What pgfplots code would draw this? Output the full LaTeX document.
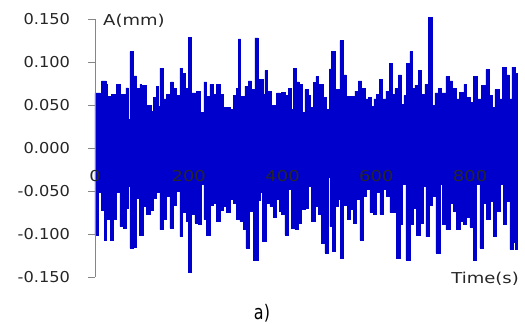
\documentclass[border=0pt]{standalone}
\usepackage{pgfplots}
\pgfplotsset{compat=1.18}
\usepackage{fontspec}
\setmainfont{DejaVu Sans}[FakeStretch=1.2]
\newfontfamily\ytfont{DejaVu Sans}[FakeStretch=1.08]
\newfontfamily\capfont{DejaVu Sans}[FakeStretch=0.8]
\definecolor{sig}{RGB}{0,0,205}
\definecolor{tcol}{HTML}{262626}
\definecolor{acol}{HTML}{868686}
\begin{document}
\begin{tikzpicture}
\path[use as bounding box] (0,0) rectangle (525pt,324pt);
\begin{axis}[
  at={(95pt,47pt)}, anchor=south west,
  scale only axis, width=422pt, height=258pt,
  xmin=0, xmax=900, ymin=-0.15, ymax=0.15,
  axis y line*=left,
  axis x line*=middle,
  hide obscured x ticks=false,
  x axis line style={draw=none},
  y axis line style={draw=acol, line width=0.8pt},
  ytick={-0.15,-0.1,-0.05,0,0.05,0.1,0.15},
  xtick={0,200,400,600,800},
  major x tick style={draw=none},
  major y tick style={draw=acol, line width=0.8pt},
  tick align=outside,
  major tick length=7pt,
  axis on top,
  /pgf/number format/assume math mode=true,
  scaled y ticks=false,
  xticklabel style={font=\fontsize{15}{18}\selectfont, text=tcol, yshift=-12pt},
  yticklabel style={/pgf/number format/fixed, /pgf/number format/fixed zerofill, /pgf/number format/precision=3, xshift=-14.5pt, font=\ytfont\fontsize{15}{18}\selectfont, text=tcol},
  clip=false,
]
\addplot[const plot, fill=sig, draw=sig, line width=0.5pt] coordinates {
(0,0.064)(10.7,0.061)(14.2,0.078)(23.5,0.074)(26.3,0.060)(35.5,0.062)(46.2,0.074)(53.3,0.053)(56.9,0.062)(66.1,0.070)(71.1,0.033)(74.6,0.112)(81.7,0.084)(88.8,0.069)(95.9,0.074)(99.5,0.073)(110.2,0.050)(120.8,0.043)(124.4,0.059)(130.1,0.072)(135,0.048)(138.6,0.093)(145.7,0.057)(152.8,0.062)(161.3,0.077)(167,0.069)(174.1,0.061)(181.2,0.093)(186.9,0.087)(191.9,0.069)(199,0.129)(206.1,0.064)(216.8,0.066)(223.9,0.041)(232.4,0.077)(238.1,0.060)(245.2,0.074)(252.3,0.062)(259.4,0.074)(266.5,0.062)(273.6,0.047)(287.8,0.045)(295,0.061)(302,0.069)(305.6,0.127)(310.6,0.060)(319.8,0.072)(326.9,0.078)(334,0.068)(341.2,0.128)(348.3,0.080)(358.9,0.062)(362.5,0.090)(367.4,0.066)(376.7,0.050)(383.8,0.038)(387.3,0.064)(394.4,0.061)(398,0.065)(405.1,0.061)(412.2,0.069)(419.3,0.045)(422.9,0.093)(430,0.077)(435.7,0.074)(442.8,0.041)(447.7,0.068)(454.9,0.061)(458.4,0.047)(465.5,0.076)(471.2,0.083)(476.2,0.074)(486.8,0.059)(494,0.045)(499.6,0.092)(504.6,0.112)(511.7,0.068)(522.4,0.125)(529.5,0.085)(535.2,0.060)(554.4,0.066)(561.5,0.078)(568.6,0.069)(575.7,0.057)(582.8,0.059)(589.9,0.048)(594.9,0.057)(600.6,0.062)(606.2,0.080)(613.4,0.057)(620.5,0.066)(627.6,0.098)(634.7,0.062)(639.6,0.069)(646.8,0.085)(653.9,0.051)(658.8,0.061)(664.5,0.098)(671.6,0.112)(677.3,0.069)(682.3,0.073)(689.4,0.090)(696.5,0.062)(703.6,0.074)(710.7,0.152)(720,0.050)(725,0.064)(732,0.069)(739.2,0.064)(748.4,0.083)(755.5,0.078)(762.6,0.069)(771.1,0.057)(776.8,0.065)(786.8,0.074)(792.5,0.059)(799.6,0.053)(806.7,0.083)(815.2,0.057)(824.4,0.073)(833.7,0.091)(840.8,0.061)(847.9,0.047)(852.9,0.068)(862.1,0.057)(869.2,0.094)(876.3,0.085)(883.4,0.057)(889.1,0.094)(895.5,0.087)(900,0.087)
} \closedcycle;
\addplot[const plot, fill=sig, draw=sig, line width=0.5pt] coordinates {
(0,-0.102)(7.1,-0.052)(14.2,-0.072)(19.2,-0.107)(24.9,-0.083)(32,-0.107)(39.1,-0.083)(46.2,-0.052)(53.3,-0.091)(60.4,-0.093)(66.1,-0.070)(71.1,-0.045)(74.6,-0.116)(81.7,-0.115)(88.8,-0.058)(94.5,-0.102)(103.1,-0.068)(110.2,-0.077)(117.3,-0.072)(124.4,-0.058)(131.5,-0.052)(138.6,-0.095)(145.7,-0.083)(152.8,-0.056)(159.9,-0.093)(167,-0.066)(174.1,-0.050)(181.2,-0.103)(186.9,-0.075)(195.5,-0.085)(199,-0.145)(206.1,-0.077)(213.2,-0.087)(220.3,-0.089)(227.4,-0.042)(232.4,-0.083)(238.1,-0.101)(245.2,-0.066)(252.3,-0.064)(259.4,-0.085)(266.5,-0.072)(273.6,-0.068)(280.7,-0.075)(287.8,-0.060)(295,-0.064)(302,-0.083)(309.2,-0.085)(316.3,-0.095)(321.9,-0.116)(329.1,-0.073)(337.6,-0.130)(348.3,-0.061)(351.8,-0.052)(357.5,-0.109)(366,-0.064)(373.1,-0.068)(380.2,-0.081)(387.3,-0.060)(393,-0.073)(398,-0.077)(405.1,-0.101)(412.2,-0.048)(419.3,-0.093)(426.4,-0.095)(433.5,-0.087)(440.6,-0.071)(447.7,-0.070)(454.9,-0.044)(462,-0.085)(469.1,-0.068)(476.2,-0.077)(483.3,-0.111)(490.4,-0.122)(497.5,-0.034)(501.1,-0.091)(506.7,-0.120)(511.7,-0.068)(518.8,-0.060)(523.8,-0.128)(529.5,-0.066)(538,-0.083)(543.7,-0.071)(550.8,-0.087)(557.9,-0.060)(565,-0.107)(572.1,-0.056)(579.2,-0.048)(586.3,-0.075)(593.4,-0.077)(600.6,-0.052)(607.7,-0.077)(614.8,-0.048)(621.9,-0.056)(629,-0.075)(636.1,-0.075)(643.2,-0.128)(650.3,-0.089)(656,-0.042)(663.1,-0.130)(671.6,-0.089)(678.7,-0.070)(685.8,-0.101)(693,-0.087)(700,-0.044)(705.7,-0.103)(712.9,-0.066)(720,-0.056)(727.1,-0.122)(735.6,-0.042)(741.3,-0.089)(748.4,-0.095)(756.9,-0.064)(764,-0.073)(771.1,-0.095)(778.2,-0.085)(785.3,-0.089)(792.4,-0.080)(799.5,-0.092)(806.7,-0.130)(813.8,-0.042)(820.9,-0.116)(828,-0.064)(835.1,-0.083)(842.2,-0.062)(849.3,-0.103)(856.4,-0.073)(863.5,-0.042)(870.6,-0.089)(877.7,-0.062)(884.8,-0.118)(892,-0.110)(896,-0.118)(900,-0.118)
} \closedcycle;
\end{axis}
\node[anchor=base west, inner sep=0pt, text=tcol, font=\fontsize{15}{18}\selectfont] at (103pt,298pt) {A(mm)};
\node[anchor=base east, inner sep=0pt, text=tcol, font=\fontsize{15}{18}\selectfont] at (519pt,40pt) {Time(s)};
\node[anchor=base, inner sep=0pt, text=black, font=\capfont\fontsize{20}{24}\selectfont] at (262pt,4.5pt) {a)};
\end{tikzpicture}
\end{document}
